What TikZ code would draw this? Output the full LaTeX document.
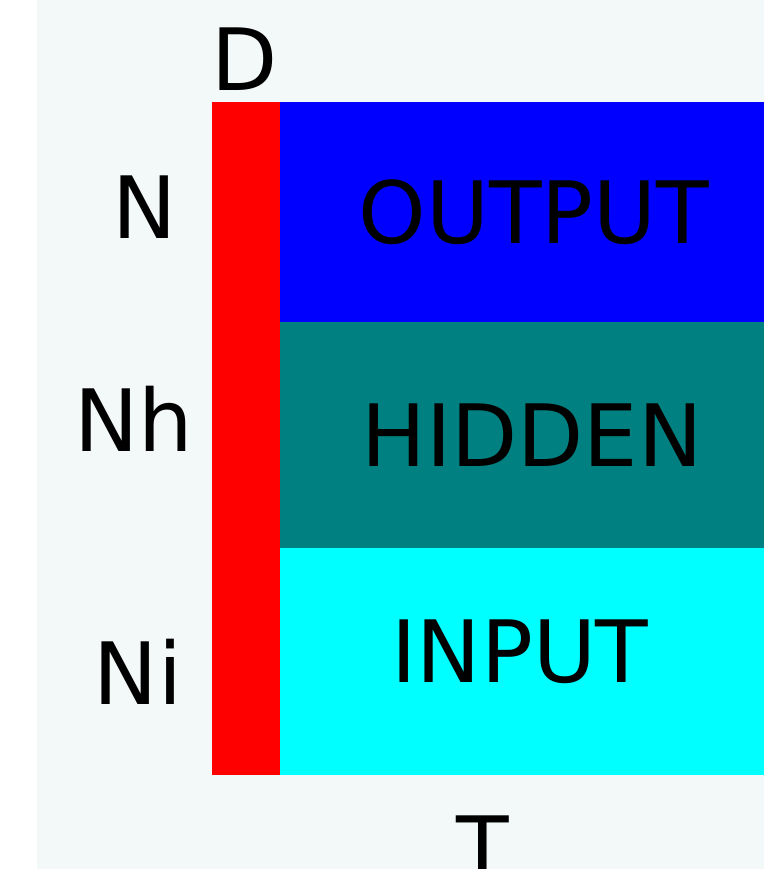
\documentclass[tikz,border=0pt]{standalone}
\usepackage{fontspec}
\setmainfont{DejaVu Sans}
\definecolor{bgc}{HTML}{F3F8F8}
\definecolor{tealc}{HTML}{008080}
\definecolor{cyanc}{HTML}{00FFFF}
\begin{document}
\begin{tikzpicture}[x=1pt,y=-1pt,
  lbl/.style={anchor=base,inner sep=0pt,font=\fontsize{86}{86}\selectfont,text=black},
  blk/.style={draw=none,inner sep=0pt,outer sep=0pt}]
\useasboundingbox (0,0) rectangle (764,869);
\fill[bgc] (37,0) rectangle (764,869);
\begin{scope}
\clip (0,0) rectangle (764,869);
\fill[red] (212,102) rectangle (280,775);
\fill[blue] (280,102) rectangle (764,322);
\fill[tealc] (280,322) rectangle (764,548);
\fill[cyanc] (280,548) rectangle (764,775);
\node[lbl] (d) at (245,91) {D};
\node[lbl] (n) at (145,238) {N};
\node[lbl] (nh) at (134,451) {Nh};
\node[lbl] (ni) at (138,704) {Ni};
\node[lbl] (out) at (534,243) {OUTPUT};
\node[lbl] (hid) at (532,466) {HIDDEN};
\node[lbl] (inp) at (520,682) {INPUT};
\node[lbl] (t) at (483,878) {T};
\end{scope}
\end{tikzpicture}
\end{document}
